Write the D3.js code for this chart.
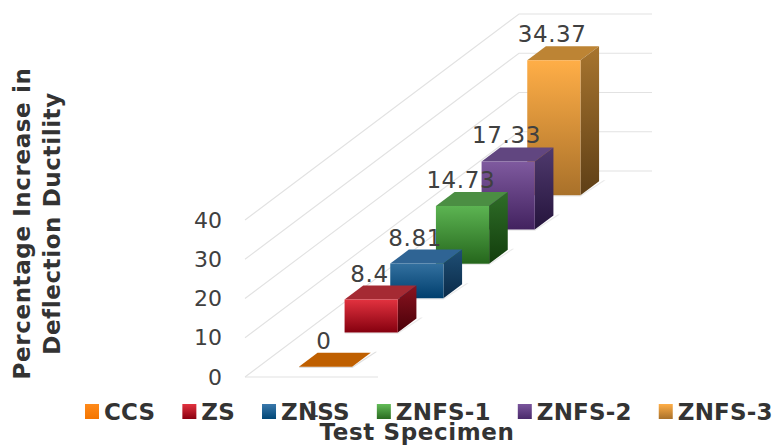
<!DOCTYPE html>
<html><head><meta charset="utf-8">
<script src="https://cdn.jsdelivr.net/npm/d3@7/dist/d3.min.js"></script>
<style>html,body{margin:0;padding:0;background:#fff}svg{display:block}</style></head>
<body><div id="chart"></div>
<script>
const categories = ["CCS","ZS","ZNSS","ZNFS-1","ZNFS-2","ZNFS-3"];
const values = [0,8.4,8.81,14.73,17.33,34.37];
const valueLabels = ["0","8.4","8.81","14.73","17.33","34.37"];
const yTicks = [0,10,20,30,40];
const frontTop = ["#c46200","#e2323f","#33709f","#5cb452","#7f5a9f","#ffae47"];
const frontBottom = ["#c46200","#85000f","#003f6e","#25661c","#42225f","#a9712a"];
const sideTop = ["#8a4500","#8a1420","#1f4f75","#2f6e28","#4f3a6e","#a8752f"];
const sideBottom = ["#8a4500","#4a0008","#0a2a48","#123d0c","#25143c","#5e3f16"];
const topFace = ["#bf5f00","#a52a33","#2f6494","#4b8e43","#614680","#bd8434"];
const legendColorTop = ["#ff8a1a","#e2323f","#3a78ab","#63bc58","#7a559c","#ffae47"];
const legendColorBottom = ["#f47500","#8a0010","#004676","#2a6b20","#4a2a6b","#a9712a"];

const W = 774, H = 447;
const svg = d3.select("#chart").append("svg").attr("width",W).attr("height",H);
const defs = svg.append("defs");

// 3D frame
const origin = {x:245,y:377}, depthVec = {x:274,y:-206}, widthPx = 133;
const yScale = d3.scaleLinear().domain([0,40]).range([0,157]);
const depthScale = d3.scaleBand().domain(categories).range([0,1]).paddingInner(.592).paddingOuter(.296);
const latScale = d3.scaleBand().domain(["s"]).range([0.5,widthPx+0.5]).paddingInner(.6).paddingOuter(.3);
function proj(u,d,v){ return [origin.x+u+depthVec.x*d, origin.y+depthVec.y*d-yScale(v)]; }
const poly = pts => "M"+pts.map(p=>p.join(",")).join("L")+"Z";

function grad(id,c1,c2){
  const g = defs.append("linearGradient").attr("id",id).attr("x1",0).attr("x2",0).attr("y1",0).attr("y2",1);
  g.append("stop").attr("offset",0).attr("stop-color",c1);
  g.append("stop").attr("offset",1).attr("stop-color",c2);
}
categories.forEach((c,i)=>{
  grad("f"+i,frontTop[i],frontBottom[i]);
  grad("s"+i,sideTop[i],sideBottom[i]);
  grad("l"+i,legendColorTop[i],legendColorBottom[i]);
});

// gridlines
const grid = svg.append("g").attr("fill","none").attr("stroke","#e2e2e2").attr("stroke-width",1.1);
yTicks.forEach(t=>{
  grid.append("path").attr("d",d3.line()([proj(0,0,t),proj(0,1,t),proj(widthPx,1,t)]));
});
grid.append("path").attr("d",d3.line()([proj(0,0,0),proj(widthPx,0,0)]));

// y tick labels
svg.append("g").selectAll("text").data(yTicks).join("text")
  .attr("x",proj(0,0,0)[0]-23).attr("y",d=>proj(0,0,d)[1]+7.5)
  .attr("text-anchor","end").attr("font-family","DejaVu Sans").attr("font-size",22)
  .attr("fill","#404040").text(d=>d);

// bars, back to front
const lo = latScale("s"), hi = lo+latScale.bandwidth();
const bars = svg.append("g");
d3.range(categories.length).reverse().forEach(i=>{
  const c=categories[i], v=values[i], d0=depthScale(c), d1=d0+depthScale.bandwidth();
  const g = bars.append("g");
  // floor shadow
  g.append("path").attr("d",poly([proj(hi,d0,0),proj(hi+3,d1+.005,0),proj(hi+5,d1+.005,0),proj(hi+2,d0-.006,0),proj(lo+2,d0-.006,0),proj(lo,d0,0)]))
    .attr("fill","#dcdcdc").attr("opacity",v>0?.6:.9);
  g.append("path").attr("d",poly([proj(lo,d0,v),proj(hi,d0,v),proj(hi,d1,v),proj(lo,d1,v)])).attr("fill",topFace[i]);
  if(v>0){
    g.append("path").attr("d",poly([proj(hi,d0,v),proj(hi,d1,v),proj(hi,d1,0),proj(hi,d0,0)])).attr("fill",`url(#s${i})`);
    g.append("path").attr("d",poly([proj(lo,d0,v),proj(hi,d0,v),proj(hi,d0,0),proj(lo,d0,0)])).attr("fill",`url(#f${i})`);
  }
});

// value labels
svg.append("g").selectAll("text").data(categories).join("text")
  .attr("x",(c,i)=>proj((lo+hi)/2,depthScale(c)+depthScale.bandwidth()/2,values[i])[0]-11)
  .attr("y",(c,i)=>proj(0,depthScale(c)+depthScale.bandwidth(),values[i])[1]-4)
  .attr("text-anchor","middle").attr("font-family","DejaVu Sans").attr("font-size",23).attr("letter-spacing",.6)
  .attr("fill","#404040").text((c,i)=>valueLabels[i]);

// category tick
svg.append("text").attr("x",313).attr("y",417).attr("text-anchor","middle")
  .attr("font-family","DejaVu Sans").attr("font-size",21).attr("fill","#404040").text("1");

// legend
let lx = 85;
const lg = svg.append("g");
categories.forEach((c,i)=>{
  lg.append("rect").attr("x",lx).attr("y",404).attr("width",14).attr("height",15).attr("fill",`url(#l${i})`);
  const t = lg.append("text").attr("x",lx+19).attr("y",420)
    .attr("font-family","DejaVu Sans").attr("font-weight","bold").attr("font-size",23).attr("letter-spacing",.2)
    .attr("fill","#333").text(c);
  lx += 19 + t.node().getComputedTextLength() + 27;
});

// axis titles
svg.append("text").attr("x",417).attr("y",440).attr("text-anchor","middle")
  .attr("font-family","DejaVu Sans").attr("font-weight","bold").attr("font-size",23).attr("letter-spacing",.6)
  .attr("fill","#333").text("Test Specimen");
const yt = ["Percentage Increase in","Deflection Ductility"];
yt.forEach((s,i)=>{
  svg.append("text").attr("transform",`translate(${30+i*30},${223.5}) rotate(-90)`)
    .attr("text-anchor","middle").attr("font-family","DejaVu Sans").attr("font-weight",700).attr("font-size",23).attr("letter-spacing",.6)
    .attr("fill","#333").text(s);
});
</script></body></html>
